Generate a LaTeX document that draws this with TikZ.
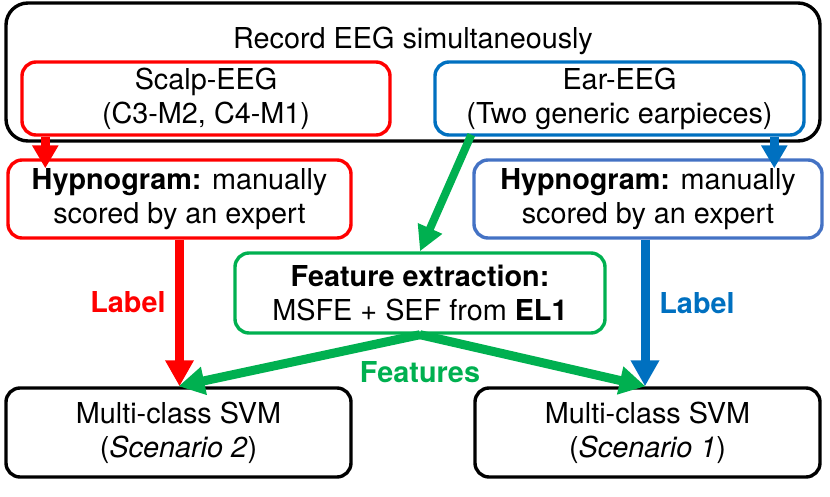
\documentclass[tikz,border=0pt]{standalone}
\usepackage{fontspec}
\setmainfont{TeX Gyre Heros}
\usetikzlibrary{arrows.meta,positioning}
\definecolor{scalpred}{RGB}{255,0,0}
\definecolor{earblue}{RGB}{0,112,192}
\definecolor{hypblue}{RGB}{68,114,196}
\definecolor{featgreen}{RGB}{0,176,80}

\begin{document}
\begin{tikzpicture}[x=1pt,y=-1pt,
		box/.style={draw, line width=3.4pt, rounded corners=14pt, align=center, inner sep=0pt, font=\fontsize{28.8}{34}\selectfont},
		bigarr/.style={line width=9pt, -{Triangle[width=27pt,length=26pt]}},
		smallarr/.style={line width=9pt, -{Triangle[width=25pt,length=23pt]}},
		lbl/.style={font=\fontsize{28.8}{34}\selectfont\bfseries}]
	\useasboundingbox (0,0) rectangle (830,497);
	% recording boxes
	\node[box, minimum width=814pt, minimum height=138pt, rounded corners=22pt] (rec) at (413,72) {};
	\node[font=\fontsize{28.8}{34}\selectfont] (rectitle) at (413,41) {Record EEG simultaneously};
	\node[box, draw=scalpred, minimum width=368pt, minimum height=73pt] (scalp) at (206,98.5) {Scalp-EEG\\(C3-M2, C4-M1)};
	\node[box, draw=earblue, minimum width=369pt, minimum height=73pt] (ear) at (619.5,98.5) {Ear-EEG\\(Two generic earpieces)};
	% hypnograms and features
	\node[box, draw=scalpred, minimum width=343pt, minimum height=78pt] (hypL) at (179.5,199) {\textbf{Hypnogram:} manually\\scored by an expert};
	\node[box, draw=hypblue, minimum width=348pt, minimum height=78pt] (hypR) at (648,199) {\textbf{Hypnogram:} manually\\scored by an expert};
	\node[box, draw=featgreen, minimum width=370pt, minimum height=80pt] (feat) at (420,293) {\textbf{Feature extraction:}\\MSFE + SEF from \textbf{EL1}};
	% classifiers
	\node[box, minimum width=345pt, minimum height=89pt] (svmL) at (178.5,432.5) {Multi-class SVM\\(\textit{Scenario 2})};
	\node[box, minimum width=345pt, minimum height=89pt] (svmR) at (647.5,432.5) {Multi-class SVM\\(\textit{Scenario 1})};
	% arrows
	\draw[smallarr, scalpred] ([xshift=25pt]scalp.south west) -- ([xshift=25pt,yshift=-10pt]scalp.south west |- hypL.north);
	\draw[smallarr, earblue] ([xshift=341pt]ear.south west) -- ([xshift=341pt,yshift=-10pt]ear.south west |- hypR.north);
	\draw[line width=8pt, featgreen, -{Triangle[width=25pt,length=25pt]}] ([xshift=38pt,yshift=2pt]ear.south west) -- (feat.north);
	\draw[bigarr, scalpred] (hypL.south) -- (hypL.south |- svmL.north);
	\draw[bigarr, earblue] ([xshift=-3pt]hypR.south) -- ([xshift=-3pt]hypR.south |- svmR.north);
	\draw[bigarr, featgreen] (feat.south) -- (svmL.north);
	\draw[bigarr, featgreen] (feat.south) -- ([xshift=-2pt]svmR.north);
	% labels
	\node[lbl, scalpred] (labL) at (128,302) {Label};
	\node[lbl, earblue] (labR) at (697,303) {Label};
	\node[lbl, featgreen] (featlab) at (420,372) {Features};
\end{tikzpicture}
\end{document}
